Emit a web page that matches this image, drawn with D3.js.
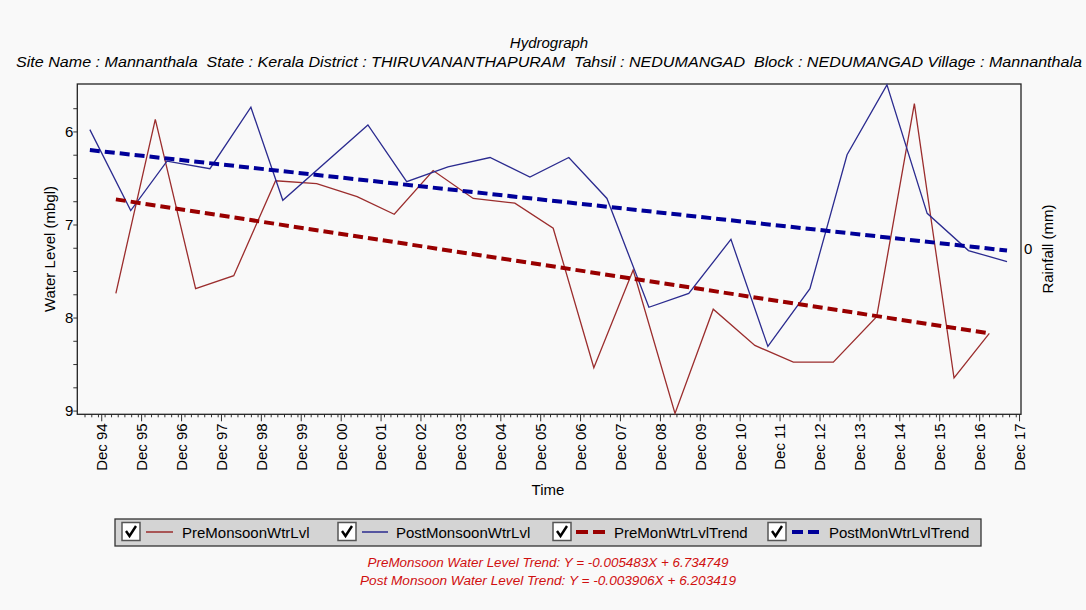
<!DOCTYPE html>
<html>
<head>
<meta charset="utf-8">
<script src="https://cdn.jsdelivr.net/npm/d3@7/dist/d3.min.js"></script>
<style>
  body { margin: 0; background: #f9f9f9; }
  text { font-family: "Liberation Sans", Arial, sans-serif; fill: #000; }
</style>
</head>
<body>
<div id="vis1"></div>
<script>
// hydrograph data (water level in m below ground)
const preDates = ["1995-04-14", "1996-04-09", "1997-04-13", "1998-03-28", "1999-04-15", "2000-04-25",
  "2001-04-30", "2002-04-05", "2003-03-27", "2004-03-28", "2005-04-13", "2006-03-30", "2007-04-06",
  "2008-03-31", "2009-04-18", "2010-04-03", "2011-04-19", "2012-04-05", "2013-04-06", "2014-05-08",
  "2015-04-18", "2016-04-15", "2017-03-04"];
const preLevels = [7.74, 5.87, 7.69, 7.55, 6.53, 6.56, 6.70, 6.89, 6.42, 6.72, 6.77, 7.04, 8.54,
  7.49, 9.03, 7.91, 8.30, 8.48, 8.48, 7.99, 5.70, 8.65, 8.17];

const postDates = ["1994-08-19", "1995-08-28", "1996-07-25", "1997-08-22", "1998-09-01", "1999-06-20",
  "2001-08-07", "2002-07-28", "2003-08-10", "2004-08-29", "2005-08-29", "2006-08-20", "2007-08-04",
  "2008-08-22", "2009-08-22", "2010-09-12", "2011-08-16", "2012-09-04", "2013-08-10", "2014-08-10",
  "2015-08-13", "2016-08-25", "2017-08-13"];
const postLevels = [5.98, 6.85, 6.32, 6.40, 5.74, 6.74, 5.93, 6.54, 6.38, 6.28, 6.49, 6.28, 6.72,
  7.89, 7.74, 7.16, 8.31, 7.69, 6.25, 5.50, 6.88, 7.28, 7.40];

// trend lines, start and end
const preTrendDates = ["1995-04-14", "2017-03-04"];
const preTrendLevels = [6.73, 8.17];
const postTrendDates = ["1994-08-19", "2017-08-13"];
const postTrendLevels = [6.20, 7.28];

const yTickValues = [6, 7, 8, 9];
const xTickYears = d3.range(1994, 2018);

const titleText = "Hydrograph";
const subtitleText = "Site Name : Mannanthala  State : Kerala District : THIRUVANANTHAPURAM  Tahsil : NEDUMANGAD  Block : NEDUMANGAD Village : Mannanthala";
const legendLabels = ["PreMonsoonWtrLvl", "PostMonsoonWtrLvl", "PreMonWtrLvlTrend", "PostMonWtrLvlTrend"];
const trendNotes = ["PreMonsoon Water Level Trend: Y = -0.005483X + 6.734749",
  "Post Monsoon Water Level Trend: Y = -0.003906X + 6.203419"];

const W = 1086, H = 610;
const plot = { left: 77.3, top: 84, right: 1021, bottom: 414.3 };

const svg = d3.select('#vis1')
  .append('svg')
  .attr('width', W)
  .attr('height', H)
  .style('background-color', '#f9f9f9');

const parse = d3.timeParse('%Y-%m-%d');

let x = d3.scaleTime()
  .domain([new Date(1994, 3, 26), new Date(2017, 11, 19)])
  .range([plot.left, plot.right]);

let y = d3.scaleLinear()
  .domain([5.49, 9.04])
  .range([plot.top, plot.bottom]);

// titles
svg.append('text')
  .attr('x', 549).attr('y', 48)
  .attr('text-anchor', 'middle')
  .style('font-style', 'italic')
  .style('font-size', '15px')
  .text(titleText);

svg.append('text')
  .attr('x', 16).attr('y', 67)
  .attr('textLength', 1066)
  .attr('lengthAdjust', 'spacingAndGlyphs')
  .style('font-style', 'italic')
  .style('font-size', '14px')
  .style('white-space', 'pre')
  .text(subtitleText);

// x axis, major ticks every December and minor every two months
const majorTicks = xTickYears.map(yr => new Date(yr, 11, 1));
const minorTicks = d3.timeMonth.every(2).range(new Date(1994, 5, 1), new Date(2017, 11, 20))
  .filter(d => d.getMonth() !== 11);

svg.append('g')
  .attr('transform', `translate(0,${plot.bottom})`)
  .call(d3.axisBottom(x).tickValues(minorTicks).tickSize(3).tickFormat(''))
  .call(g => g.select('.domain').remove())
  .call(g => g.selectAll('line').attr('stroke', '#333'));

const xAxis = svg.append('g')
  .attr('transform', `translate(0,${plot.bottom})`)
  .call(d3.axisBottom(x).tickValues(majorTicks).tickSize(7).tickFormat(d3.timeFormat('Dec %y')))
  .call(g => g.select('.domain').remove())
  .call(g => g.selectAll('line').attr('stroke', '#333'));

xAxis.selectAll('text')
  .attr('transform', 'rotate(-90)')
  .attr('x', -9)
  .attr('y', 0)
  .attr('dy', '0.36em')
  .attr('text-anchor', 'end')
  .style('font-size', '15px')
  .style('font-family', '"Liberation Sans", Arial, sans-serif')
  .attr('fill', '#000');

// y axis
const yAxis = svg.append('g')
  .attr('transform', `translate(${plot.left},0)`)
  .call(d3.axisLeft(y).tickValues(d3.range(5.75, 9.01, 0.25)).tickSize(4)
    .tickFormat(d => yTickValues.includes(d) ? d : ''))
  .call(g => g.select('.domain').remove())
  .call(g => g.selectAll('line').attr('stroke', '#333'));

yAxis.selectAll('text')
  .attr('x', -4)
  .style('font-size', '15px')
  .style('font-family', '"Liberation Sans", Arial, sans-serif')
  .attr('fill', '#000');

// frame
svg.append('rect')
  .attr('x', plot.left).attr('y', plot.top)
  .attr('width', plot.right - plot.left)
  .attr('height', plot.bottom - plot.top)
  .attr('fill', 'none')
  .attr('stroke', '#222')
  .attr('stroke-width', 1.3);

// axis titles
svg.append('text')
  .attr('transform', 'translate(55,249) rotate(-90)')
  .attr('text-anchor', 'middle')
  .style('font-size', '15px')
  .text('Water Level (mbgl)');

svg.append('text')
  .attr('transform', 'translate(1053,249) rotate(-90)')
  .attr('text-anchor', 'middle')
  .style('font-size', '15px')
  .text('Rainfall (mm)');

svg.append('text')
  .attr('x', 1024).attr('y', 254)
  .style('font-size', '15px')
  .text('0');

svg.append('text')
  .attr('x', 548).attr('y', 495)
  .attr('text-anchor', 'middle')
  .style('font-size', '15px')
  .text('Time');

// lines
const line = d3.line()
  .x(d => x(d.date))
  .y(d => y(d.value));

function series(dates, values) {
  return dates.map((d, i) => ({ date: parse(d), value: values[i] }));
}

const chart = svg.append('g');

chart.append('path')
  .datum(series(preDates, preLevels))
  .attr('d', line)
  .attr('fill', 'none')
  .attr('stroke', '#9b2d2d')
  .attr('stroke-width', 1.3);

chart.append('path')
  .datum(series(postDates, postLevels))
  .attr('d', line)
  .attr('fill', 'none')
  .attr('stroke', '#2b2b8f')
  .attr('stroke-width', 1.3);

chart.append('path')
  .datum(series(preTrendDates, preTrendLevels))
  .attr('d', line)
  .attr('fill', 'none')
  .attr('stroke', '#990000')
  .attr('stroke-width', 4)
  .attr('stroke-dasharray', '10,5');

chart.append('path')
  .datum(series(postTrendDates, postTrendLevels))
  .attr('d', line)
  .attr('fill', 'none')
  .attr('stroke', '#000099')
  .attr('stroke-width', 4)
  .attr('stroke-dasharray', '10,5');

// legend
const legend = svg.append('g');
legend.append('rect')
  .attr('x', 115).attr('y', 519)
  .attr('width', 866).attr('height', 27)
  .attr('fill', '#d4d4d4')
  .attr('stroke', '#333')
  .attr('stroke-width', 1.3);

const legendItems = [
  { box: 122, sx: 146, ex: 173, tx: 182, color: '#9b2d2d', dash: null, w: 1.5 },
  { box: 338, sx: 362, ex: 388, tx: 396, color: '#2b2b8f', dash: null, w: 1.5 },
  { box: 553, sx: 576, ex: 608, tx: 614, color: '#990000', dash: '12,5', w: 4 },
  { box: 768, sx: 792, ex: 820, tx: 829, color: '#000099', dash: '11,5', w: 4 }
];

legendItems.forEach((it, i) => {
  legend.append('rect')
    .attr('x', it.box).attr('y', 522.5)
    .attr('width', 18).attr('height', 18)
    .attr('fill', '#fff')
    .attr('stroke', '#555')
    .attr('stroke-width', 1.5);
  legend.append('path')
    .attr('d', `M${it.box + 4},${531} L${it.box + 7.5},${536} L${it.box + 14},${526}`)
    .attr('fill', 'none')
    .attr('stroke', '#000')
    .attr('stroke-width', 2.4);
  legend.append('line')
    .attr('x1', it.sx).attr('x2', it.ex)
    .attr('y1', 532).attr('y2', 532)
    .attr('stroke', it.color)
    .attr('stroke-width', it.w)
    .attr('stroke-dasharray', it.dash);
  legend.append('text')
    .attr('x', it.tx).attr('y', 537.5)
    .style('font-size', '15px')
    .text(legendLabels[i]);
});

// trend equations
const noteWidths = [361, 376];
trendNotes.forEach((t, i) => {
  svg.append('text')
    .attr('x', 548 - noteWidths[i] / 2).attr('y', 567 + i * 18)
    .attr('textLength', noteWidths[i])
    .attr('lengthAdjust', 'spacingAndGlyphs')
    .style('font-style', 'italic')
    .style('font-size', '12.5px')
    .style('fill', '#d01010')
    .text(t);
});
</script>
</body>
</html>
